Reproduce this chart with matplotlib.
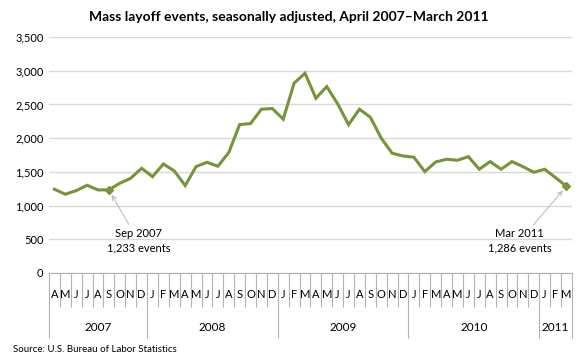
import matplotlib
matplotlib.use("Agg")
import matplotlib.pyplot as plt
import numpy as np

plt.rcParams["font.family"] = ["Lato", "DejaVu Sans"]

# Monthly mass layoff events, Apr 2007 - Mar 2011
months = ["A", "M", "J", "J", "A", "S", "O", "N", "D",
          "J", "F", "M", "A", "M", "J", "J", "A", "S", "O", "N", "D",
          "J", "F", "M", "A", "M", "J", "J", "A", "S", "O", "N", "D",
          "J", "F", "M", "A", "M", "J", "J", "A", "S", "O", "N", "D",
          "J", "F", "M"]
events = [1242, 1168, 1222, 1301, 1232, 1233, 1331, 1405, 1553,
          1429, 1617, 1514, 1296, 1578, 1642, 1583, 1786, 2201, 2216, 2429, 2439,
          2281, 2815, 2963, 2592, 2765, 2508, 2201, 2429, 2310, 2000, 1776, 1736,
          1717, 1503, 1647, 1687, 1672, 1726, 1539, 1652, 1539, 1652, 1578, 1494,
          1539, 1415, 1286]
years = ["2007", "2008", "2009", "2010", "2011"]
year_starts = [0, 9, 21, 33, 45, 48]
yticks = [0, 500, 1000, 1500, 2000, 2500, 3000, 3500]

LINE = "#77933C"
GRID = "#D9D9D9"
AXIS = "#B3B3B3"

fig = plt.figure(figsize=(5.8, 3.6), dpi=100)
ax = fig.add_axes([0.0845, 0.2417, 0.9015, 0.6555])

x = np.arange(len(events)) + 0.5
ax.plot(x, events, color=LINE, lw=2.2, solid_joinstyle="miter", zorder=3)

# highlighted points
for idx in (5, len(events) - 1):
    ax.plot(x[idx], events[idx], marker="D", ms=4.5, color=LINE, zorder=4)

ax.set_xlim(0, len(events))
ax.set_ylim(0, 3500)
ax.set_yticks(yticks)
ax.set_yticklabels([f"{v:,}" for v in yticks], fontsize=8)
ax.yaxis.grid(True, color=GRID, lw=1)
ax.set_axisbelow(True)
ax.tick_params(axis="y", length=0, pad=4)

for s in ("top", "right", "left"):
    ax.spines[s].set_visible(False)
ax.spines["bottom"].set_color(AXIS)

# month separators (minor) and year separators (major)
ax.set_xticks(year_starts)
ax.set_xticks(np.arange(len(events) + 1), minor=True)
ax.set_xticklabels([])
ax.tick_params(axis="x", which="minor", length=24.5, color=AXIS, width=0.8)
ax.tick_params(axis="x", which="major", length=47, color=AXIS, width=0.8)

tr = ax.get_xaxis_transform()
for xi, m in zip(x, months):
    ax.text(xi, -0.093, m, transform=tr, ha="center", va="center", fontsize=8)
for i, yr in enumerate(years):
    mid = (year_starts[i] + year_starts[i + 1]) / 2
    ax.text(mid, -0.229, yr, transform=tr, ha="center", va="center", fontsize=8.5)

arrow = dict(arrowstyle="->", color="#BFBFBF", lw=0.8, shrinkA=1, shrinkB=4)
ax.annotate("Sep 2007\n1,233 events", xy=(x[5], events[5]), xytext=(8.2, 475),
            ha="center", va="center", fontsize=8, linespacing=1.35, arrowprops=arrow)
ax.annotate("Mar 2011\n1,286 events", xy=(x[-1], events[-1]), xytext=(43.2, 475),
            ha="center", va="center", fontsize=8, linespacing=1.35, arrowprops=arrow)

fig.text(0.497, 0.953, "Mass layoff events, seasonally adjusted, April 2007\u2013March 2011",
         ha="center", va="center", fontsize=10, fontweight="bold")
fig.text(0.022, 0.028, "Source: U.S. Bureau of Labor Statistics", ha="left",
         va="center", fontsize=7)

fig.savefig("out.png", dpi=100)
